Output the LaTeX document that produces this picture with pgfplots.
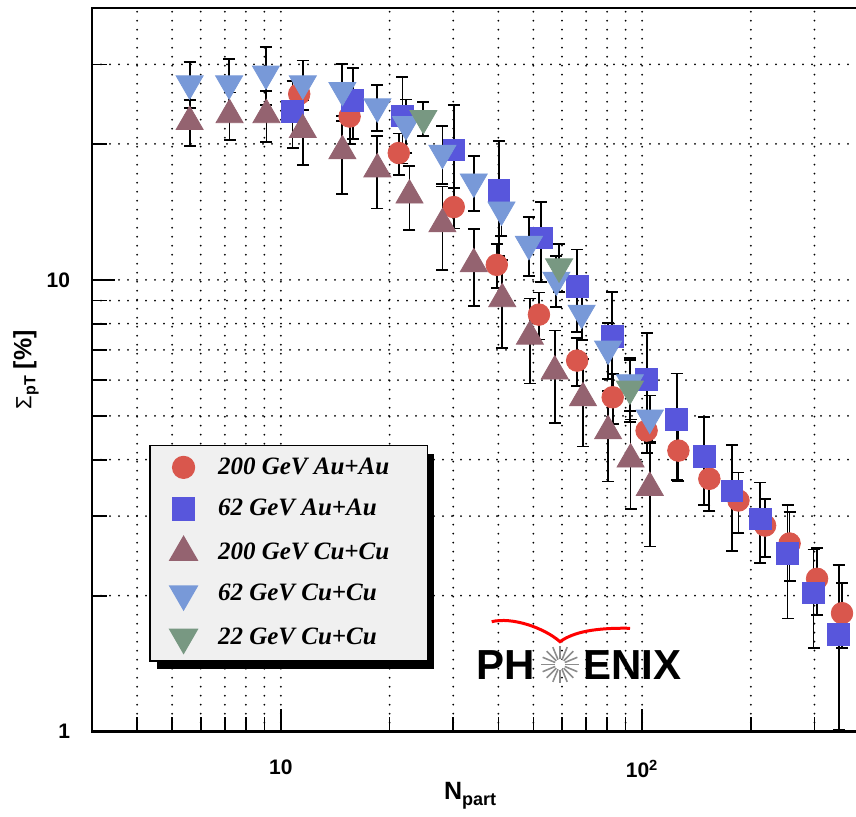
\documentclass[border=0pt]{standalone}
\usepackage{fontspec}
\setmainfont{Liberation Sans}
\newfontfamily\legfont{Liberation Serif}
\usepackage{pgfplots}
\pgfplotsset{compat=1.18}
\usetikzlibrary{shadows}

\definecolor{cAuA}{RGB}{217,87,77}   % 200 GeV Au+Au
\definecolor{cAuB}{RGB}{88,86,220}   % 62 GeV Au+Au
\definecolor{cCuA}{RGB}{148,99,112}  % 200 GeV Cu+Cu
\definecolor{cCuB}{RGB}{120,153,216} % 62 GeV Cu+Cu
\definecolor{cCuC}{RGB}{120,152,130} % 22 GeV Cu+Cu

\begin{document}
\begin{tikzpicture}
\begin{axis}[
    scale only axis,
    width=383.8pt, height=361.85pt,
    xmode=log, ymode=log,
    xmin=3, xmax=400, ymin=1, ymax=40,
    xtick={10,100}, xticklabels={10,10\textsuperscript{2}},
    ytick={1,10}, yticklabels={1,10},
    minor xtick={4,5,6,7,8,9,20,30,40,50,60,70,80,90,200,300},
    minor ytick={2,3,4,5,6,7,8,9,20,30},
    tick pos=left, tick align=inside,
    major tick length=11.5pt, minor tick length=7.5pt,
    every tick/.style={black, line width=0.8pt},
    ticklabel style={font=\bfseries\fontsize{10.5}{12}\selectfont},
    xticklabel style={yshift=-10.5pt},
    yticklabel style={xshift=-7.5pt},
    grid=both,
    major grid style={black, line width=1pt, line cap=round, dash pattern=on 0pt off 4.5pt},
    minor grid style={black, line width=1pt, line cap=round, dash pattern=on 0pt off 4.5pt},
    axis line style={line width=1.2pt},
    every axis x label/.style={at={(axis description cs:0.4925,-0.088)}, anchor=center},
    every axis y label/.style={at={(axis description cs:-0.086,0.5)}, rotate=90, anchor=center},
    xlabel={\bfseries\fontsize{12.5}{14}\selectfont N\raisebox{-0.45ex}{\fontsize{9}{10}\selectfont part}},
    ylabel={{\fontsize{11}{13}\selectfont Σ}\raisebox{-0.4ex}{\bfseries\fontsize{8}{9}\selectfont pT}\bfseries\fontsize{12.5}{14}\selectfont\ [\%]},
    error bars/y dir=both, error bars/y explicit,
    error bars/error bar style={black, line width=0.9pt},
    error bars/error mark options={black, line width=0.9pt, mark size=3pt, rotate=90},
    legend style={at={(0.0746,0.0967)}, anchor=south west, draw=black, line width=0.8pt,
        fill=black!6, drop shadow={shadow xshift=3.5pt, shadow yshift=-4pt, fill=black, opacity=1},
        font=\legfont\bfseries\itshape\fontsize{12.5}{14}\selectfont,
        row sep=7pt, column sep=8.5pt, inner xsep=10pt, inner ysep=4pt},
    legend cell align=left,
]

% 200 GeV Au+Au
\addplot[only marks, mark=*, mark size=5.4pt, color=cAuA] coordinates {
    (11.24,25.8) +- (0,2.0)
    (15.5,23.0) +- (0,3.0)
    (21.2,19.1) +- (0,2.0)
    (30.1,14.5) +- (0,1.5)
    (39.6,10.8) +- (0,1.2)
    (51.8,8.38) +- (0,1.0)
    (66.1,6.63) +- (0,0.8)
    (82.9,5.50) +- (0,0.7)
    (102.9,4.64) +- (0,0.5)
    (126,4.19) +- (0,0.6)
    (153.5,3.63) +- (0,0.55)
    (184.8,3.25) +- (0,0.5)
    (219,2.86) +- (0,0.42)
    (256,2.61) +- (0,0.45)
    (305,2.18) +- (0,0.37)
    (357.6,1.83) +- (0,0.3)
};
\addlegendentry{200 GeV Au+Au\hspace*{7pt}}

% 62 GeV Au+Au
\addplot[only marks, mark=square*, mark size=5.4pt, color=cAuB] coordinates {
    (10.77,23.6) +- (0,4.0)
    (15.8,25.0) +- (0,4.5)
    (21.7,23.1) +- (0,5.0)
    (30.1,19.4) +- (0,5.0)
    (40.1,15.8) +- (0,4.5)
    (52.6,12.4) +- (0,2.5)
    (66.1,9.68) +- (0,2.0)
    (82.6,7.50) +- (0,1.9)
    (102.9,6.02) +- (0,1.6)
    (124.6,4.91) +- (0,1.3)
    (148.7,4.07) +- (0,0.9)
    (177.1,3.41) +- (0,0.9)
    (212.3,2.96) +- (0,0.6)
    (252.7,2.48) +- (0,0.7)
    (298.3,2.03) +- (0,0.5)
    (350,1.64) += (0,0.7) -= (0,0.63)
};
\addlegendentry{62 GeV Au+Au}

% 200 GeV Cu+Cu
\addplot[only marks, mark=triangle*, mark size=7.8pt, color=cCuA] coordinates {
    (5.59,22.4) +- (0,2.6)
    (7.21,23.2) +- (0,2.8)
    (9.12,23.2) +- (0,3.0)
    (11.5,21.5) +- (0,3.5)
    (14.8,19.3) +- (0,3.8)
    (18.5,17.6) +- (0,3.2)
    (22.7,15.4) +- (0,2.5)
    (28.0,13.3) +- (0,2.8)
    (34.2,10.85) +- (0,2.1)
    (41.0,9.08) +- (0,2.0)
    (48.9,7.50) +- (0,1.6)
    (57.3,6.28) +- (0,1.45)
    (68.6,5.48) +- (0,1.2)
    (80.5,4.63) +- (0,1.05)
    (92.9,4.01) +- (0,0.9)
    (105,3.47) +- (0,0.9)
};
\addlegendentry{200 GeV Cu+Cu}

% 62 GeV Cu+Cu
\addplot[only marks, mark=triangle*, mark size=7.8pt, mark options={rotate=180}, color=cCuB] coordinates {
    (5.59,27.2) +- (0,3.2)
    (7.19,27.2) +- (0,3.6)
    (9.09,28.6) +- (0,4.2)
    (11.5,27.2) +- (0,3.4)
    (14.8,26.3) +- (0,3.8)
    (18.5,24.2) +- (0,2.8)
    (22.2,22.1) +- (0,3.0)
    (28.0,19.1) +- (0,2.8)
    (34.2,16.5) +- (0,2.3)
    (40.8,14.3) +- (0,1.8)
    (48.6,12.0) +- (0,1.8)
    (57.9,10.0) +- (0,1.3)
    (68.0,8.45) +- (0,1.1)
    (80.5,7.04) +- (0,1.0)
    (92.5,5.93) +- (0,0.8)
    (105,4.95) +- (0,0.6)
};
\addlegendentry{62 GeV Cu+Cu}

% 22 GeV Cu+Cu
\addplot[only marks, mark=triangle*, mark size=7.8pt, mark options={rotate=180}, color=cCuC] coordinates {
    (24.8,22.8) +- (0,2.0)
    (58.9,10.7) +- (0,1.3)
    (92.5,5.74) +- (0,0.9)
};
\addlegendentry{22 GeV Cu+Cu}
\end{axis}

% PHENIX logo
\node[anchor=base east, inner sep=0, font=\bfseries\fontsize{21}{21}\selectfont] at (221.5pt,25.9pt) {PH};
\node[anchor=base west, inner sep=0, font=\bfseries\fontsize{21}{21}\selectfont] at (245.5pt,25.9pt) {ENIX};
\fill[white] (234pt,33.6pt) circle (2.5pt);
\foreach \a in {0,22.5,...,337.5}
    \draw[black!45, line width=0.8pt] (234pt,33.6pt) ++(\a:2.6pt) -- ++(\a:6.8pt);
\draw[red, line width=1.5pt] (199.85pt,55pt) .. controls (210pt,57.5pt) and (226pt,52pt) .. (234pt,45pt)
    .. controls (241pt,50pt) and (252pt,52pt) .. (269pt,51.7pt);

\pgfresetboundingbox
\path[use as bounding box] (-46pt,-42.65pt) rectangle (382pt,365.85pt);
\end{tikzpicture}
\end{document}
